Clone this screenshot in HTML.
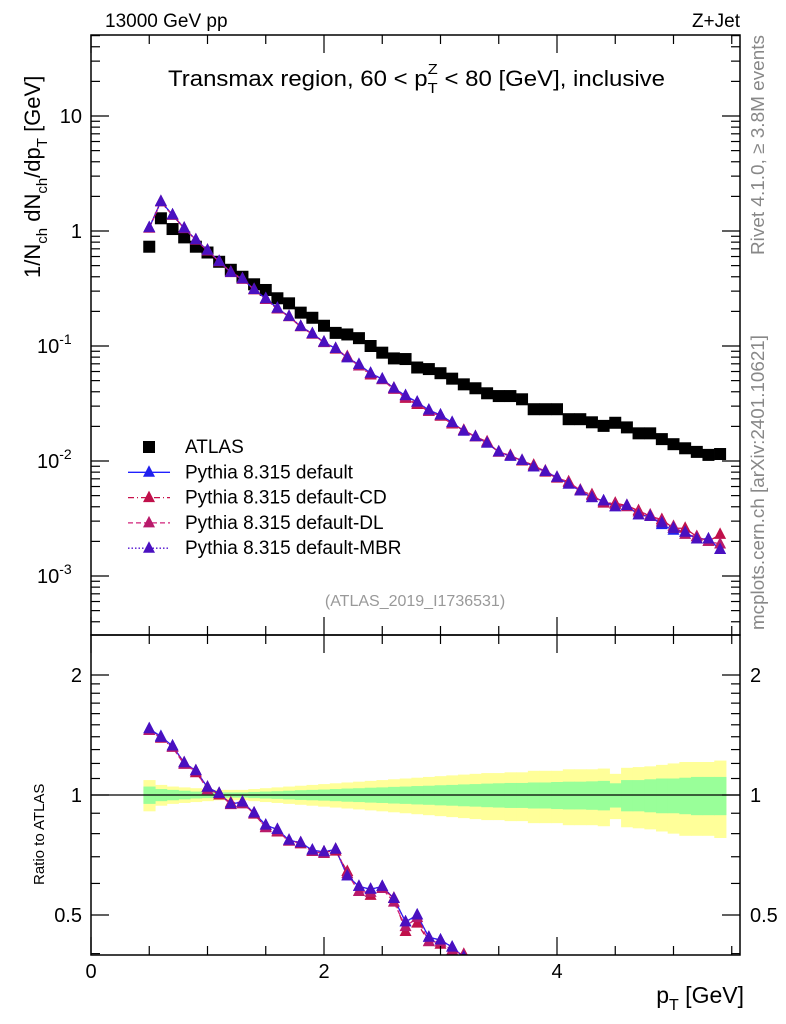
<!DOCTYPE html>
<html><head><meta charset="utf-8">
<style>
html,body{margin:0;padding:0;background:#fff;width:786px;height:1024px;overflow:hidden;}
svg{display:block;font-family:"Liberation Sans",sans-serif;}
</style></head>
<body>
<svg id="chart" width="786" height="1024" viewBox="0 0 786 1024" xmlns="http://www.w3.org/2000/svg">
<defs>
<clipPath id="clipMain"><rect x="91" y="35" width="649" height="600"/></clipPath>
<clipPath id="clipRatio"><rect x="91" y="635" width="649" height="320"/></clipPath>
</defs>
<g id="bands" clip-path="url(#clipRatio)"></g>
<g id="marks"></g>
<g id="axes"></g>
<text x="105" y="27" font-size="19">13000 GeV pp</text>
<text x="740" y="27" font-size="19" text-anchor="end">Z+Jet</text>
<text x="168" y="86" font-size="22" textLength="497" lengthAdjust="spacingAndGlyphs">Transmax region, 60 &lt; p<tspan dy="7" font-size="15">T</tspan><tspan dx="-9" dy="-19" font-size="15">Z</tspan><tspan dy="12"> &lt; 80 [GeV], inclusive</tspan></text>
<text x="415" y="606" font-size="16" fill="#999" text-anchor="middle">(ATLAS_2019_I1736531)</text>
<text transform="translate(764,255) rotate(-90)" font-size="18" fill="#888" textLength="220" lengthAdjust="spacingAndGlyphs">Rivet 4.1.0, ≥ 3.8M events</text>
<text transform="translate(764,630) rotate(-90)" font-size="18" fill="#888" textLength="295" lengthAdjust="spacingAndGlyphs">mcplots.cern.ch [arXiv:2401.10621]</text>
<text transform="translate(40,278) rotate(-90)" font-size="22">1/N<tspan dy="7" font-size="15">ch</tspan><tspan dy="-7"> dN</tspan><tspan dy="7" font-size="15">ch</tspan><tspan dy="-7">/dp</tspan><tspan dy="7" font-size="15">T</tspan><tspan dy="-7"> [GeV]</tspan></text>
<text transform="translate(44,885) rotate(-90)" font-size="15">Ratio to ATLAS</text>
<text x="744" y="1003" font-size="23" text-anchor="end">p<tspan dy="7" font-size="16">T</tspan><tspan dy="-7"> [GeV]</tspan></text>
<g id="legend"></g>
</svg>
<script>
// ---- data ----
const xCenters = [0.5,0.6,0.7,0.8,0.9,1.0,1.1,1.2,1.3,1.4,1.5,1.6,1.7,1.8,1.9,2.0,2.1,2.2,2.3,2.4,2.5,2.6,2.7,2.8,2.9,3.0,3.1,3.2,3.3,3.4,3.5,3.6,3.7,3.8,3.9,4.0,4.1,4.2,4.3,4.4,4.5,4.6,4.7,4.8,4.9,5.0,5.1,5.2,5.3,5.4];
const atlas = [0.73,1.29,1.04,0.88,0.73,0.65,0.54,0.46,0.40,0.344,0.307,0.26,0.235,0.195,0.176,0.150,0.130,0.126,0.117,0.100,0.0875,0.078,0.077,0.065,0.063,0.058,0.052,0.0464,0.0429,0.0388,0.0367,0.0367,0.0344,0.0282,0.0282,0.0282,0.0231,0.0231,0.0217,0.0202,0.0215,0.0196,0.0174,0.0174,0.0155,0.0140,0.0129,0.0120,0.0113,0.0115];
const mcDefault = [1.07,1.81,1.38,1.06,0.84,0.68,0.545,0.437,0.384,0.31,0.258,0.213,0.181,0.148,0.128,0.108,0.095,0.079,0.069,0.058,0.0516,0.0429,0.037,0.0325,0.0277,0.0251,0.0216,0.0182,0.0163,0.0143,0.0120,0.0110,0.0101,0.0089,0.0081,0.0072,0.0063,0.0055,0.0048,0.0045,0.0040,0.0041,0.0034,0.0033,0.0028,0.0025,0.0024,0.0021,0.0021,0.0017];
const mcCD = [1.06,1.79,1.37,1.06,0.83,0.68,0.54,0.44,0.384,0.308,0.255,0.21,0.18,0.147,0.127,0.108,0.094,0.081,0.067,0.056,0.051,0.043,0.035,0.031,0.027,0.0245,0.021,0.0185,0.0163,0.0147,0.0119,0.0112,0.0100,0.0092,0.0080,0.0071,0.0066,0.0055,0.0051,0.0043,0.0043,0.0041,0.0037,0.0033,0.0031,0.0026,0.0026,0.0022,0.0020,0.0023];
const mcDL = [1.06,1.80,1.37,1.05,0.84,0.67,0.545,0.435,0.38,0.31,0.254,0.211,0.18,0.148,0.127,0.107,0.095,0.080,0.067,0.057,0.051,0.042,0.036,0.032,0.027,0.0248,0.0212,0.0184,0.0162,0.0145,0.0120,0.0111,0.0101,0.0090,0.0082,0.0072,0.0065,0.0056,0.0050,0.0044,0.0042,0.0040,0.0036,0.0034,0.0030,0.0027,0.0023,0.0022,0.0020,0.0019];
const mcMBR = [1.07,1.80,1.38,1.06,0.84,0.68,0.545,0.437,0.384,0.31,0.258,0.213,0.181,0.148,0.128,0.108,0.095,0.079,0.069,0.058,0.0516,0.0429,0.037,0.0325,0.0277,0.0251,0.0216,0.0182,0.0163,0.0143,0.0120,0.0110,0.0101,0.0089,0.0081,0.0072,0.0063,0.0055,0.0048,0.0045,0.0040,0.0041,0.0034,0.0033,0.0029,0.0026,0.0024,0.0021,0.0021,0.0017];
const totErr = [0.09,0.06,0.05,0.045,0.04,0.035,0.03,0.03,0.03,0.035,0.04,0.045,0.05,0.055,0.06,0.065,0.07,0.075,0.08,0.085,0.09,0.095,0.10,0.105,0.11,0.115,0.12,0.125,0.13,0.135,0.135,0.14,0.14,0.15,0.15,0.15,0.16,0.16,0.16,0.165,0.13,0.17,0.175,0.18,0.19,0.20,0.21,0.21,0.21,0.22];
const statErr = [0.05,0.035,0.03,0.025,0.02,0.018,0.015,0.015,0.015,0.018,0.02,0.022,0.025,0.028,0.03,0.032,0.035,0.038,0.04,0.043,0.045,0.048,0.05,0.053,0.055,0.058,0.06,0.063,0.065,0.068,0.07,0.072,0.072,0.075,0.075,0.078,0.08,0.08,0.082,0.085,0.07,0.09,0.09,0.095,0.10,0.10,0.105,0.11,0.11,0.11];
const xTickMajor = [0,2,4];
const yTickLabels = ["10","1","10","10","10"];
const yTickExps = [1,0,-1,-2,-3];
const ratioTicks = [0.5,1,2];

// ---- axes functions ----
const X0=91,X1=740,MT=35,MB=635,RT=635,RB=955;
const xs = v => X0 + (v-0)*116.5;
const ysMain = v => 231 - Math.log10(v)*115;
const ysRatio = r => 795 - Math.log2(r)*120;
const NS="http://www.w3.org/2000/svg";
function mk(tag, attrs, parent){const e=document.createElementNS(NS,tag);for(const k in attrs)e.setAttribute(k,attrs[k]);parent.appendChild(e);return e;}
const axes=document.getElementById('axes'), marks=document.getElementById('marks'), bands=document.getElementById('bands'), legend=document.getElementById('legend');

const bw=0.1;
xCenters.forEach((x,i)=>{
  const r1=mk('rect',{x:xs(x-bw/2),y:ysRatio(1+totErr[i]),width:xs(x+bw/2)-xs(x-bw/2)+0.5,height:ysRatio(1-totErr[i])-ysRatio(1+totErr[i]),fill:'#ffff99'},bands);
  
  
});
xCenters.forEach((x,i)=>{
  const r2=mk('rect',{x:xs(x-bw/2),y:ysRatio(1+statErr[i]),width:xs(x+bw/2)-xs(x-bw/2)+0.5,height:ysRatio(1-statErr[i])-ysRatio(1+statErr[i]),fill:'#99ff99'},bands);
  
  
});
const ref=mk('line',{x1:X0,x2:X1,y1:ysRatio(1),y2:ysRatio(1),stroke:'#000','stroke-width':1.3},marks);



const series=[
  {name:'default',vals:mcDefault,line:'#2020ff',tri:'#2020ee',dash:''},
  {name:'default-cd',vals:mcCD,line:'#c8104a',tri:'#c0104a',dash:'6,3,1,3'},
  {name:'default-dl',vals:mcDL,line:'#d0207a',tri:'#b81a6a',dash:'5,3'},
  {name:'default-mbr',vals:mcMBR,line:'#5010d0',tri:'#4a10c0',dash:'1.5,2'}
];
const mainG=mk('g',{'clip-path':'url(#clipMain)'},marks);
const ratG=mk('g',{'clip-path':'url(#clipRatio)'},marks);
function tri(cx,cy,col,g,name){
  const p=mk('polygon',{points:`${cx},${cy-7} ${cx-6},${cy+4.5} ${cx+6},${cy+4.5}`,fill:col},g);
  
  
}
xCenters.forEach((x,i)=>{
  const s=mk('rect',{x:xs(x)-6,y:ysMain(atlas[i])-6,width:12,height:12,fill:'#000'},mainG);
  
  
});
series.forEach(s=>{
  const pm=xCenters.map((x,i)=>xs(x)+','+ysMain(s.vals[i])).join(' ');
  const l=mk('polyline',{points:pm,fill:'none',stroke:s.line,'stroke-width':1.3,'stroke-dasharray':s.dash},mainG);
  
  
  const pr=xCenters.map((x,i)=>xs(x)+','+ysRatio(s.vals[i]/atlas[i])).join(' ');
  const l2=mk('polyline',{points:pr,fill:'none',stroke:s.line,'stroke-width':1.3,'stroke-dasharray':s.dash},ratG);
  
  
});
series.forEach(s=>{
  xCenters.forEach((x,i)=>{
    tri(xs(x),ysMain(s.vals[i]),s.tri,mainG,'mc-point-'+s.name);
    tri(xs(x),ysRatio(s.vals[i]/atlas[i]),s.tri,ratG,'ratio-point-'+s.name);
  });
});

[[MT,MB],[RT,RB]].forEach(([t,b])=>{
  const f=mk('rect',{x:X0,y:t,width:X1-X0,height:b-t,fill:'none',stroke:'#000','stroke-width':1.5},axes);
  
  
});
function tk(x1,y1,x2,y2){const t=mk('line',{x1,y1,x2,y2,stroke:'#000','stroke-width':1.2},axes);}
for(let v=0;v<=5.5;v+=0.5){
  const major=xTickMajor.includes(v); const L=major?18:9;
  const x=xs(v);
  tk(x,MB,x,MB-L); tk(x,MT,x,MT+L); tk(x,RB,x,RB-L); tk(x,RT,x,RT+L);
}
xTickMajor.forEach(v=>{
  const t=mk('text',{x:xs(v),y:978,'font-size':20,'text-anchor':'middle'},axes);
  t.textContent=v;
  
  
});
for(let e=-4;e<=1;e++){
  for(let m=1;m<10;m++){
    const v=m*Math.pow(10,e); const y=ysMain(v);
    if(y<MT||y>MB) continue;
    const L=m===1?18:9;
    tk(X0,y,X0+L,y); tk(X1,y,X1-L,y);
  }
}
yTickExps.forEach((e,i)=>{
  const y=ysMain(Math.pow(10,e));
  const t=mk('text',{x:82,y:y+7,'font-size':20,'text-anchor':'end'},axes);
  t.textContent=yTickLabels[i];
  if(e<0){
    const sp=mk('tspan',{dy:-9,'font-size':14},t);sp.textContent=String(e);
    t.setAttribute('x',37); t.setAttribute('text-anchor','start');
  }
  
  
});
[0.4,0.5,0.6,0.7,0.8,0.9,1,2].forEach(v=>{
  const y=ysRatio(v); const L=ratioTicks.includes(v)?18:9;
  tk(X0,y,X0+L,y); tk(X1,y,X1-L,y);
});
[1.1,1.2,1.3,1.4,1.5,1.6,1.7,1.8,1.9].forEach(v=>{const y=ysRatio(v);tk(X0,y,X0+9,y);tk(X1,y,X1-9,y);});
ratioTicks.forEach(v=>{
  const y=ysRatio(v);
  const a=mk('text',{x:82,y:y+7,'font-size':20,'text-anchor':'end'},axes);a.textContent=v;
  
  
  const b=mk('text',{x:750,y:y+7,'font-size':20},axes);b.textContent=v;
  
  
});

const legItems=[
  {label:'ATLAS',type:'sq'},
  {label:'Pythia 8.315 default',s:series[0]},
  {label:'Pythia 8.315 default-CD',s:series[1]},
  {label:'Pythia 8.315 default-DL',s:series[2]},
  {label:'Pythia 8.315 default-MBR',s:series[3]}
];
legItems.forEach((it,i)=>{
  const y=447+i*25.3;
  const g=mk('g',{},legend);
  
  
  if(it.type==='sq'){mk('rect',{x:143,y:y-6,width:12,height:12,fill:'#000'},g);}
  else{
    mk('line',{x1:128,x2:170,y1:y,y2:y,stroke:it.s.line,'stroke-width':1.3,'stroke-dasharray':it.s.dash},g);
    mk('polygon',{points:`149,${y-7} 143,${y+4.5} 155,${y+4.5}`,fill:it.s.tri},g);
  }
  const t=mk('text',{x:185,y:y+6,'font-size':19},g);t.textContent=it.label;
});
</script>
</body></html>
